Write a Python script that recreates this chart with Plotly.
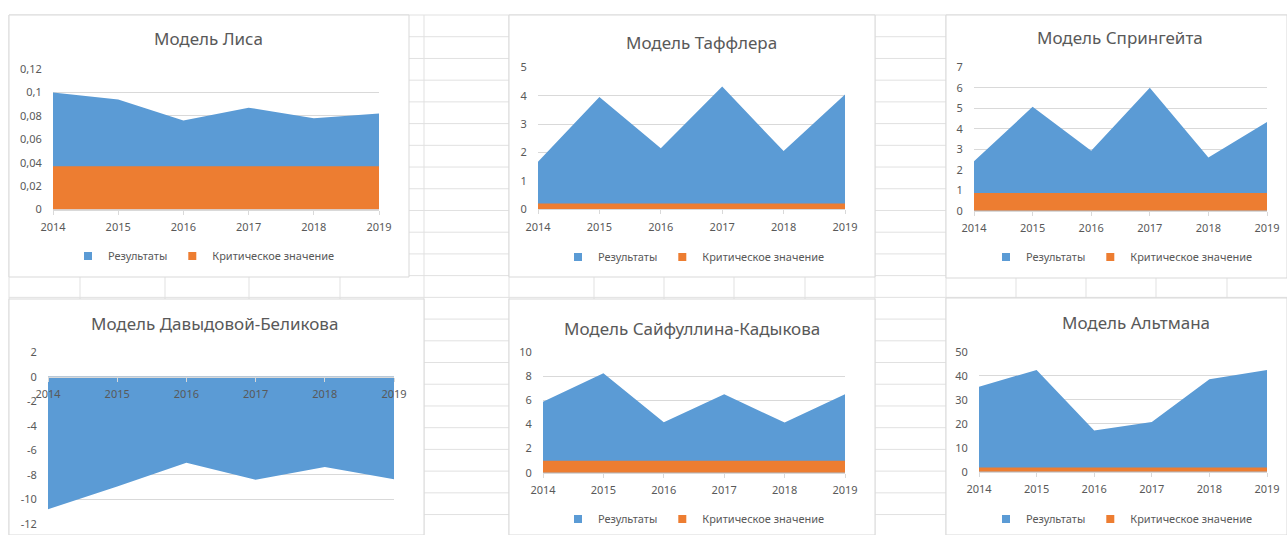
import plotly.graph_objects as go

# ---------------- data ----------------
years = [2014, 2015, 2016, 2017, 2018, 2019]
year_labels = ["2014", "2015", "2016", "2017", "2018", "2019"]

lis_values = [0.100, 0.094, 0.076, 0.087, 0.078, 0.082]
lis_critical = [0.037] * 6
lis_ticks = [0, 0.02, 0.04, 0.06, 0.08, 0.1, 0.12]
lis_ticktext = ["0", "0,02", "0,04", "0,06", "0,08", "0,1", "0,12"]

taffler_values = [1.67, 3.95, 2.15, 4.32, 2.05, 4.04]
taffler_critical = [0.2] * 6
taffler_ticks = [0, 1, 2, 3, 4, 5]

springate_values = [2.41, 5.07, 2.93, 6.00, 2.60, 4.33]
springate_critical = [0.862] * 6
springate_ticks = [0, 1, 2, 3, 4, 5, 6, 7]

davydova_values = [-10.8, -8.95, -7.0, -8.4, -7.35, -8.35]
davydova_critical = [0] * 6
davydova_ticks = [2, 0, -2, -4, -6, -8, -10, -12]

saif_values = [5.9, 8.26, 4.19, 6.51, 4.16, 6.51]
saif_critical = [1] * 6
saif_ticks = [0, 2, 4, 6, 8, 10]

altman_values = [35.4, 42.4, 17.2, 20.7, 38.5, 42.4]
altman_critical = [1.8] * 6
altman_ticks = [0, 10, 20, 30, 40, 50]

titles = ["Модель Лиса", "Модель Таффлера", "Модель Спрингейта",
          "Модель Давыдовой-Беликова", "Модель Сайфуллина-Кадыкова", "Модель Альтмана"]
series_names = ["Результаты", "Критическое значение"]

# ---------------- layout helpers (pixels) ----------------
W, H = 1287, 535
BLUE = "#5B9BD5"
ORANGE = "#ED7D31"
TXT = "#595959"
GRID = "#D9D9D9"
SHEET = "#E1E1E1"
FONT = "Noto Sans"

def px(x):
    return min(max(x, 0), W) / W

def py(y):
    return 1 - min(max(y, 0), H) / H

charts = [
    dict(vals=lis_values, crit=lis_critical, ticks=lis_ticks, ticktext=lis_ticktext,
         x0=53, x1=379, ytop=69, ybot=209.5, rng=[0, 0.12],
         title_xy=(208, 39), legend_xy=(204, 256), box=(9, 15, 409, 277)),
    dict(vals=taffler_values, crit=taffler_critical, ticks=taffler_ticks, ticktext=None,
         x0=538, x1=845, ytop=67.3, ybot=209.3, rng=[0, 5],
         title_xy=(701, 43), legend_xy=(694, 257), box=(509, 15, 875, 277)),
    dict(vals=springate_values, crit=springate_critical, ticks=springate_ticks, ticktext=None,
         x0=974, x1=1267, ytop=67.3, ybot=210.7, rng=[0, 7],
         title_xy=(1120, 38), legend_xy=(1122, 257), box=(946, 15, 1287, 278)),
    dict(vals=davydova_values, crit=davydova_critical, ticks=davydova_ticks, ticktext=None,
         x0=48, x1=394, ytop=352.3, ybot=524, rng=[-12, 2],
         title_xy=(215, 323), legend_xy=None, box=(9, 299, 424, 535)),
    dict(vals=saif_values, crit=saif_critical, ticks=saif_ticks, ticktext=None,
         x0=543, x1=845, ytop=352.3, ybot=472.7, rng=[0, 10],
         title_xy=(692, 328), legend_xy=(694, 519), box=(509, 299, 875, 535)),
    dict(vals=altman_values, crit=altman_critical, ticks=altman_ticks, ticktext=None,
         x0=979, x1=1267, ytop=351.7, ybot=471.7, rng=[0, 50],
         title_xy=(1136, 322), legend_xy=(1122, 519), box=(946, 298, 1287, 535)),
]

fig = go.Figure()
shapes = []
annotations = []
layout_extra = {}

# spreadsheet grid
col_x = [9, 80, 165, 249, 340, 424, 509, 594, 664, 734, 805, 875, 946, 1016, 1086, 1156, 1227]
row_y = [15 + 21.72 * k for k in range(24)]
for x in col_x:
    shapes.append(dict(type="line", xref="paper", yref="paper", x0=px(x), x1=px(x),
                       y0=py(15), y1=py(H), line=dict(color=SHEET, width=1), layer="below"))
for y in row_y:
    shapes.append(dict(type="line", xref="paper", yref="paper", x0=px(9), x1=px(W),
                       y0=py(y), y1=py(y), line=dict(color=SHEET, width=1), layer="below"))

for i, c in enumerate(charts, start=1):
    sfx = "" if i == 1 else str(i)
    xa, ya = "x" + sfx, "y" + sfx
    leg = "legend" + sfx
    bx0, by0, bx1, by1 = c["box"]
    shapes.append(dict(type="rect", xref="paper", yref="paper",
                       x0=px(bx0), x1=px(bx1), y0=py(by1), y1=py(by0),
                       fillcolor="white", line=dict(color=GRID, width=1), layer="below"))
    show = c["legend_xy"] is not None
    fig.add_trace(go.Scatter(x=years, y=c["vals"], mode="none", fill="tozeroy",
                             fillcolor=BLUE, name=series_names[0], showlegend=False,
                             xaxis=xa, yaxis=ya, hoverinfo="skip"))
    fig.add_trace(go.Scatter(x=years, y=c["crit"], mode="none", fill="tozeroy",
                             fillcolor=ORANGE, name=series_names[1], showlegend=False,
                             xaxis=xa, yaxis=ya, hoverinfo="skip"))
    if show:
        for name, col in zip(series_names, [BLUE, ORANGE]):
            fig.add_trace(go.Scatter(x=[None], y=[None], mode="markers", name=name,
                                     marker=dict(symbol="square", size=8, color=col),
                                     showlegend=True, legend=leg, xaxis=xa, yaxis=ya))
        lx, ly = c["legend_xy"]
        layout_extra[leg] = dict(orientation="h", x=px(lx), y=py(ly), xanchor="center",
                                 yanchor="middle", bgcolor="rgba(0,0,0,0)",
                                 font=dict(family=FONT, size=11, color=TXT),
                                 itemwidth=30, tracegroupgap=0)
    ydom = [py(c["ybot"]), py(c["ytop"])]
    xaxis = dict(domain=[px(c["x0"]), px(c["x1"])], range=[2014, 2019], anchor=ya,
                 tickmode="array", tickvals=years, ticktext=year_labels,
                 showgrid=False, zeroline=False, showline=True, linecolor=GRID,
                 ticks="outside", ticklen=4, tickcolor=GRID, automargin=False,
                 ticklabelstandoff=3,
                 tickfont=dict(family=FONT, size=11, color=TXT), fixedrange=True)
    if c["rng"][0] < 0:
        zero_y = c["ybot"] + (c["ytop"] - c["ybot"]) * (0 - c["rng"][0]) / (c["rng"][1] - c["rng"][0])
        xaxis.update(anchor="free", position=py(zero_y))
    yaxis = dict(domain=ydom, range=c["rng"], anchor=xa, tickmode="array",
                 tickvals=c["ticks"],
                 ticktext=c["ticktext"] if c["ticktext"] else [str(t) for t in c["ticks"]],
                 showgrid=True, gridcolor=GRID, gridwidth=1, zeroline=False, showline=False,
                 ticks="outside", ticklen=8, tickcolor="rgba(0,0,0,0)", automargin=False,
                 tickfont=dict(family=FONT, size=11, color=TXT), fixedrange=True)
    layout_extra["xaxis" + sfx] = xaxis
    layout_extra["yaxis" + sfx] = yaxis
    tx, ty = c["title_xy"]
    annotations.append(dict(text=titles[i - 1], xref="paper", yref="paper",
                            x=px(tx), y=py(ty), xanchor="center", yanchor="middle",
                            showarrow=False, font=dict(family=FONT, size=17, color=TXT)))

fig.update_layout(width=W, height=H, margin=dict(l=0, r=0, t=0, b=0, autoexpand=False),
                  paper_bgcolor="white", plot_bgcolor="rgba(0,0,0,0)",
                  shapes=shapes, annotations=annotations, **layout_extra)

fig.write_html("out.html", config={"displayModeBar": False},
               post_script="document.body.style.margin='0';document.body.style.padding='0';"
                           "document.body.style.overflow='hidden';"
                           "document.documentElement.style.overflow='hidden';")
